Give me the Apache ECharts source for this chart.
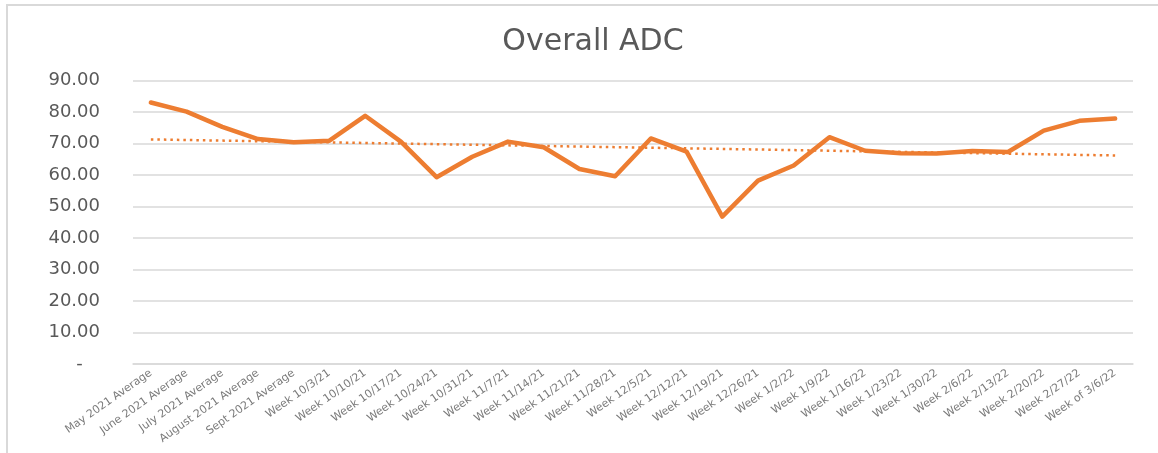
<!DOCTYPE html>
<html>
<head>
<meta charset="utf-8">
<script src="https://cdn.jsdelivr.net/npm/echarts@6/dist/echarts.min.js"></script>
<style>
  html, body { margin: 0; padding: 0; background: #ffffff; }
  #chart { width: 1158px; height: 453px; }
</style>
</head>
<body>
<div id="chart"></div>
<script>
// Week labels along the x axis
const categories = [
  'May 2021 Average', 'June 2021 Average', 'July 2021 Average', 'August 2021 Average',
  'Sept 2021 Average', 'Week 10/3/21', 'Week 10/10/21', 'Week 10/17/21',
  'Week 10/24/21', 'Week 10/31/21', 'Week 11/7/21', 'Week 11/14/21',
  'Week 11/21/21', 'Week 11/28/21', 'Week 12/5/21', 'Week 12/12/21',
  'Week 12/19/21', 'Week 12/26/21', 'Week 1/2/22', 'Week 1/9/22',
  'Week 1/16/22', 'Week 1/23/22', 'Week 1/30/22', 'Week 2/6/22',
  'Week 2/13/22', 'Week 2/20/22', 'Week 2/27/22', 'Week of 3/6/22'
];

// Average daily census per period
const adcValues = [
  83.0, 80.1, 75.3, 71.4, 70.4, 70.9, 78.8, 70.6,
  59.3, 65.8, 70.6, 68.8, 61.9, 59.6, 71.6, 67.4,
  46.8, 58.2, 63.0, 72.0, 67.7, 66.9, 66.8, 67.6,
  67.3, 74.1, 77.2, 77.9
];

// Linear trend line: value at the first and last period
const trendEnds = [71.3, 66.2];

// Y axis ticks
const yTicks = [0, 10, 20, 30, 40, 50, 60, 70, 80, 90];

const trendData = categories.map((_, i) =>
  i === 0 ? trendEnds[0] : (i === categories.length - 1 ? trendEnds[1] : null));

const chart = echarts.init(document.getElementById('chart'), null, { renderer: 'canvas' });

chart.setOption({
  backgroundColor: '#ffffff',
  animation: false,
  title: {
    text: 'Overall ADC',
    left: 588,
    top: 22,
    textAlign: 'center',
    textStyle: {
      fontFamily: 'DejaVu Sans',
      fontSize: 30,
      fontWeight: 'normal',
      color: '#595959'
    }
  },
  graphic: [{
    type: 'rect',
    shape: { x: 7, y: 5, width: 1170, height: 470 },
    style: { fill: 'none', stroke: '#d9d9d9', lineWidth: 2 },
    silent: true,
    z: -1
  }],
  grid: { left: 133, right: 25, top: 80.5, bottom: 89 },
  xAxis: {
    type: 'category',
    data: categories,
    boundaryGap: true,
    axisLine: { show: true, lineStyle: { color: '#d9d9d9', width: 1.5 } },
    axisTick: { show: false },
    axisLabel: {
      interval: 0,
      rotate: 35,
      margin: 8,
      fontFamily: 'DejaVu Sans',
      fontSize: 11,
      color: '#7a7a7a'
    }
  },
  yAxis: {
    type: 'value',
    min: yTicks[0],
    max: yTicks[yTicks.length - 1],
    interval: 10,
    axisLine: { show: false },
    axisTick: { show: false },
    splitLine: { lineStyle: { color: '#d9d9d9', width: 1.5 } },
    axisLabel: {
      margin: 33,
      fontFamily: 'DejaVu Sans',
      fontSize: 18,
      color: '#595959',
      formatter: v => v === 0 ? '-   ' : v.toFixed(2)
    }
  },
  series: [
    {
      name: 'ADC',
      type: 'line',
      data: adcValues,
      symbol: 'none',
      lineStyle: { color: '#ed7d31', width: 4.5, cap: 'round', join: 'round' },
      z: 3
    },
    {
      name: 'Linear (ADC)',
      type: 'line',
      data: trendData,
      connectNulls: true,
      symbol: 'none',
      lineStyle: { color: '#ed7d31', width: 2.5, type: [2.5, 4] },
      z: 2
    }
  ]
});
</script>
</body>
</html>
